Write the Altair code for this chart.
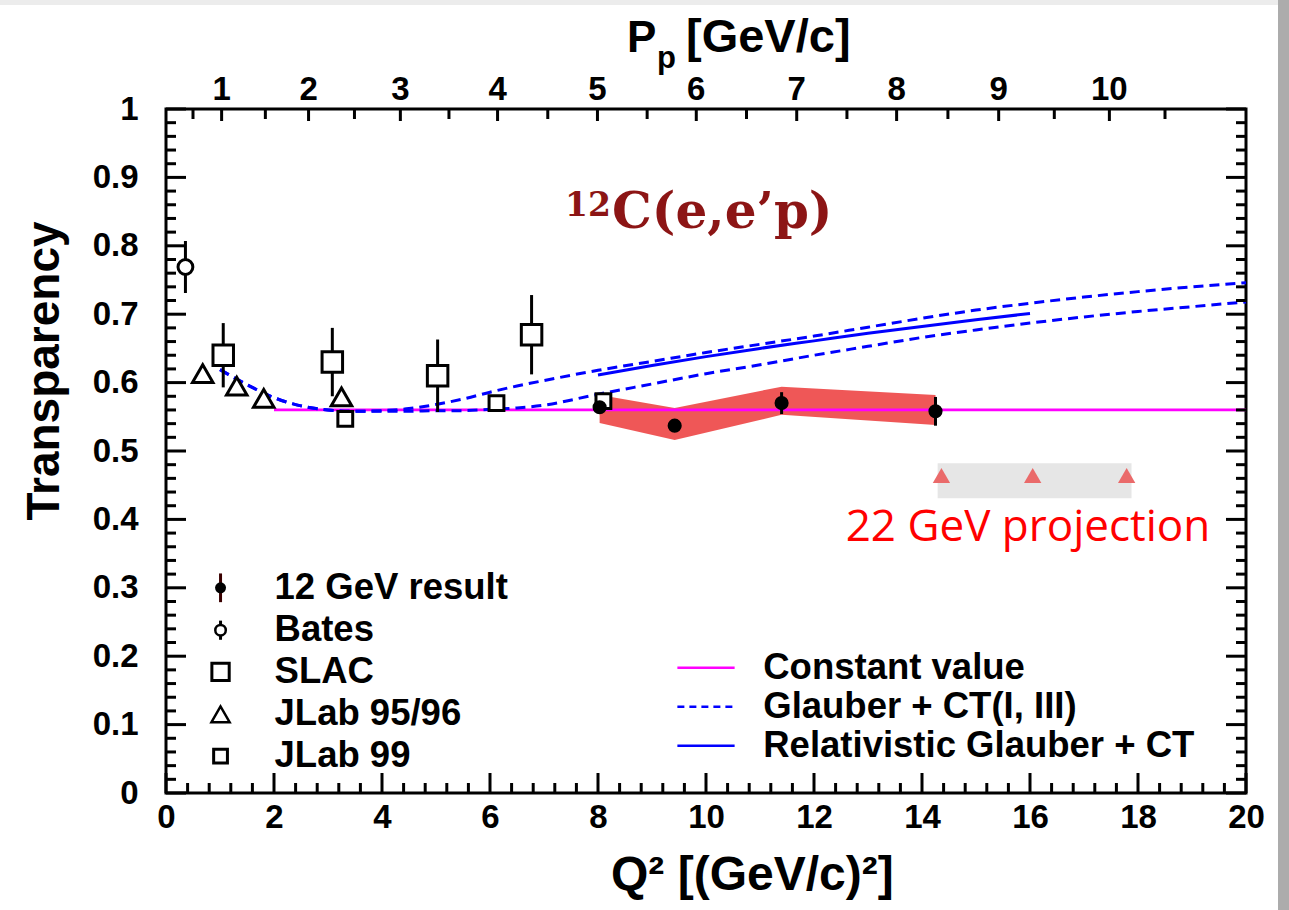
import altair as alt
import pandas as pd

# ---------------- data ----------------
# 12 GeV (Hall C) carbon transparency, statistical errors and systematic band
q2_12gev = [8.03, 9.42, 11.40, 14.25]
t_12gev = [0.564, 0.537, 0.570, 0.558]
err_12gev = [0.006, 0.006, 0.016, 0.021]
sys_lo_12gev = [0.541, 0.516, 0.553, 0.538]
sys_hi_12gev = [0.582, 0.563, 0.594, 0.582]

q2_bates = [0.36]
t_bates = [0.769]
err_bates = [0.038]

q2_slac = [1.06, 3.08, 5.03, 6.77]
t_slac = [0.640, 0.630, 0.610, 0.670]
err_slac = [0.047, 0.050, 0.053, 0.058]

q2_jlab95 = [0.68, 1.31, 1.81, 3.25]
t_jlab95 = [0.613, 0.595, 0.577, 0.579]
err_jlab95 = [0.012, 0.010, 0.010, 0.012]

q2_jlab99 = [3.32, 6.12, 8.10]
t_jlab99 = [0.547, 0.570, 0.573]
err_jlab99 = [0.008, 0.008, 0.008]

# model curves
const_value = 0.56
const_q2 = [2.0, 20.0]

glauber_q2 = [1.0, 1.5, 2.0, 2.5, 3.0, 3.5, 4.0, 4.5, 5.0, 5.5, 6.0, 6.5, 7.0, 8.0, 9.0,
              10.0, 11.0, 12.0, 13.0, 14.0, 15.0, 16.0, 17.0, 18.0, 19.0, 20.0]
glauber_ct1 = [0.619, 0.597, 0.578, 0.566, 0.560, 0.558, 0.559, 0.562, 0.568, 0.576, 0.586,
               0.595, 0.603, 0.618, 0.631, 0.644, 0.656, 0.668, 0.681, 0.694, 0.706,
               0.716, 0.725, 0.733, 0.740, 0.746]
glauber_ct3 = [0.619, 0.597, 0.578, 0.566, 0.560, 0.558, 0.558, 0.558, 0.559, 0.559, 0.561,
               0.563, 0.567, 0.583, 0.598, 0.613, 0.626, 0.640, 0.653, 0.666, 0.677,
               0.687, 0.696, 0.704, 0.711, 0.718]

rel_q2 = [8.0, 9.0, 10.0, 11.0, 12.0, 13.0, 14.0, 15.0, 16.0]
rel_t = [0.611, 0.625, 0.638, 0.650, 0.661, 0.672, 0.682, 0.692, 0.701]

# 22 GeV projection
proj_q2 = [14.36, 16.05, 17.79]
proj_t = [0.464, 0.464, 0.464]
proj_box_q2 = [14.29, 17.88]
proj_box_t = [0.431, 0.482]

# axis ticks
x_major = [0, 2, 4, 6, 8, 10, 12, 14, 16, 18, 20]
x_minor = [round(0.4 * i, 2) for i in range(51) if i % 5]
y_major = [round(0.1 * i, 2) for i in range(11)]
y_minor = [round(0.02 * i, 2) for i in range(51) if i % 5]
p_labels = ["1", "2", "3", "4", "5", "6", "7", "8", "9", "10"]
p_q2 = [1.03, 2.64, 4.34, 6.14, 7.99, 9.82, 11.68, 13.53, 15.42, 17.47]
p_minor_q2 = [0.50, 1.84, 3.49, 5.24, 7.07, 8.91, 10.75, 12.61, 14.48, 16.45, 18.5]

# legend entries (placed in data units)
leg_left_names = ["12 GeV result", "Bates", "SLAC", "JLab 95/96", "JLab 99"]
leg_left_t = [0.300, 0.238, 0.177, 0.115, 0.054]
leg_left_marker_q2 = 1.01
leg_left_text_q2 = 2.01
leg_right_names = ["Constant value", "Glauber + CT(I, III)", "Relativistic Glauber + CT"]
leg_right_t = [0.183, 0.126, 0.069]
leg_right_line_q2 = [9.47, 10.53]
leg_right_text_q2 = 11.06

# ---------------- chart ----------------
W, H = 1080, 684
OX, OY = 166, 109          # plot origin on the page
FONT = "Liberation Sans"
TICK_FS = 33
LEG_FS = 36.5
XS = alt.Scale(domain=[0, 20], nice=False, zero=False)
YS = alt.Scale(domain=[0, 1], nice=False, zero=False)

X_AXIS = alt.Axis(values=x_major, format="d", ticks=False, tickSize=0, domain=False, grid=False,
                  labelFont=FONT, labelFontWeight="bold", labelFontSize=TICK_FS, labelColor="black",
                  labelPadding=8, labelFlush=False, labelOverlap=False, title=None)
Y_AXIS = alt.Axis(values=y_major, format=".1~f", ticks=False, tickSize=0, domain=False, grid=False,
                  labelFont=FONT, labelFontWeight="bold", labelFontSize=TICK_FS, labelColor="black",
                  labelPadding=28, labelFlush=False, labelOverlap=False, title=None)


def xenc(field):
    return alt.X(f"{field}:Q", scale=XS, axis=X_AXIS)


def yenc(field):
    return alt.Y(f"{field}:Q", scale=YS, axis=Y_AXIS)


def df(**cols):
    return pd.DataFrame(cols)


layers = []

# projection box
layers.append(
    alt.Chart(df(x=[proj_box_q2[0]], x2=[proj_box_q2[1]], y=[proj_box_t[0]], y2=[proj_box_t[1]]))
    .mark_rect(color="#e6e6e6")
    .encode(x=xenc("x"), x2="x2:Q", y=yenc("y"), y2="y2:Q")
)
layers.append(
    alt.Chart(df(q2=proj_q2, t=proj_t))
    .mark_point(shape="triangle-up", filled=True, color="#ea6a6a", size=300, opacity=1)
    .encode(x=xenc("q2"), y=yenc("t"))
)

# systematic band of the 12 GeV result
layers.append(
    alt.Chart(df(q2=q2_12gev, lo=sys_lo_12gev, hi=sys_hi_12gev))
    .mark_area(color="#e60000", opacity=0.66)
    .encode(x=xenc("q2"), y=yenc("lo"), y2="hi:Q")
)

# constant value fit
layers.append(
    alt.Chart(df(q2=const_q2, t=[const_value, const_value]))
    .mark_line(color="#ff00ff", strokeWidth=2.8)
    .encode(x=xenc("q2"), y=yenc("t"))
)

# Glauber + CT curves
gl = pd.concat([
    df(q2=glauber_q2, t=glauber_ct1, model=["CT I"] * len(glauber_q2)),
    df(q2=glauber_q2, t=glauber_ct3, model=["CT III"] * len(glauber_q2)),
])
layers.append(
    alt.Chart(gl)
    .mark_line(color="#0000ff", strokeWidth=3, strokeDash=[10, 6], interpolate="monotone")
    .encode(x=xenc("q2"), y=yenc("t"), detail="model:N")
)
layers.append(
    alt.Chart(df(q2=rel_q2, t=rel_t))
    .mark_line(color="#0000ff", strokeWidth=3, interpolate="monotone")
    .encode(x=xenc("q2"), y=yenc("t"))
)


def errbars(q2, t, err, color="black"):
    d = df(q2=q2, lo=[a - b for a, b in zip(t, err)], hi=[a + b for a, b in zip(t, err)])
    return (alt.Chart(d).mark_rule(color=color, strokeWidth=3)
            .encode(x=xenc("q2"), y=yenc("lo"), y2="hi:Q"))


def markers(q2, t, shape, size, filled=False, stroke=3):
    d = df(q2=q2, t=t)
    if filled:
        m = alt.Chart(d).mark_point(shape=shape, size=size, filled=True, color="black", opacity=1)
    else:
        m = alt.Chart(d).mark_point(shape=shape, size=size, filled=False, stroke="black",
                                    fill="white", fillOpacity=1, strokeWidth=stroke, opacity=1)
    return m.encode(x=xenc("q2"), y=yenc("t"))


for q, t, e in [(q2_bates, t_bates, err_bates), (q2_slac, t_slac, err_slac),
                (q2_jlab95, t_jlab95, err_jlab95), (q2_jlab99, t_jlab99, err_jlab99),
                (q2_12gev, t_12gev, err_12gev)]:
    layers.append(errbars(q, t, e))

layers.append(markers(q2_bates, t_bates, "circle", 220))
layers.append(markers(q2_slac, t_slac, "square", 420))
layers.append(markers(q2_jlab95, t_jlab95, "triangle-up", 420))
layers.append(markers(q2_jlab99, t_jlab99, "square", 220))
layers.append(markers(q2_12gev, t_12gev, "circle", 200, filled=True))

# ---- legend (left box: data sets) ----
lm = leg_left_marker_q2
layers.append(errbars([lm], [leg_left_t[0]], [0.021], color="#3a0000"))
layers.append(errbars([lm], [leg_left_t[1]], [0.014]))
layers.append(markers([lm], [leg_left_t[0]], "circle", 120, filled=True))
layers.append(markers([lm], [leg_left_t[1]], "circle", 110, stroke=2.5))
layers.append(markers([lm], [leg_left_t[2]], "square", 300))
layers.append(markers([lm], [leg_left_t[3]], "triangle-up", 330, stroke=2.5))
layers.append(markers([lm], [leg_left_t[4]], "square", 190))
layers.append(
    alt.Chart(df(q2=[leg_left_text_q2] * 5, t=leg_left_t, name=leg_left_names))
    .mark_text(font=FONT, fontWeight="bold", fontSize=LEG_FS, align="left", baseline="middle", color="black")
    .encode(x=xenc("q2"), y=yenc("t"), text="name:N")
)


# ---- legend (right box: models) ----
def leg_line(t, color, dash=None):
    kw = dict(color=color, strokeWidth=2.5)
    if dash:
        kw["strokeDash"] = dash
    return (alt.Chart(df(q2=leg_right_line_q2, t=[t, t])).mark_line(**kw)
            .encode(x=xenc("q2"), y=yenc("t")))


layers.append(leg_line(leg_right_t[0], "#ff00ff"))
layers.append(leg_line(leg_right_t[1], "#0000ff", [7, 5]))
layers.append(leg_line(leg_right_t[2], "#0000ff"))
layers.append(
    alt.Chart(df(q2=[leg_right_text_q2] * 3, t=leg_right_t, name=leg_right_names))
    .mark_text(font=FONT, fontWeight="bold", fontSize=LEG_FS, align="left", baseline="middle", color="black")
    .encode(x=xenc("q2"), y=yenc("t"), text="name:N")
)


# ---- frame ticks (pointing inward, ROOT style) ----
def hticks(vals, x0, x1):
    return (alt.Chart(df(t=vals)).mark_rule(color="black", strokeWidth=3)
            .encode(y=yenc("t"), x=alt.value(x0), x2=alt.value(x1)))


def vticks(vals, y0, y1):
    return (alt.Chart(df(q2=vals)).mark_rule(color="black", strokeWidth=3)
            .encode(x=xenc("q2"), y=alt.value(y0), y2=alt.value(y1)))


layers += [
    hticks(y_major, 0, 20), hticks(y_minor, 0, 10),
    hticks(y_major, W - 20, W), hticks(y_minor, W - 10, W),
    vticks(x_major, H - 20, H), vticks(x_minor, H - 10, H),
    vticks(p_q2, 0, 12), vticks(p_minor_q2, 0, 10),
]

# top (proton momentum) axis labels
layers.append(
    alt.Chart(df(q2=p_q2, lab=p_labels))
    .mark_text(font=FONT, fontWeight="bold", fontSize=TICK_FS, align="center", baseline="alphabetic",
               color="black")
    .encode(x=xenc("q2"), y=alt.value(100 - OY), text="lab:N")
)


def label(s, px, py, size, color="black", font=FONT, weight="bold", align="left",
          baseline="alphabetic", angle=0):
    kw = dict(font=font, fontWeight=weight, fontSize=size, color=color, align=align, baseline=baseline)
    if angle:
        kw["angle"] = angle
    return (alt.Chart(df(s=[s])).mark_text(**kw)
            .encode(x=alt.value(px - OX), y=alt.value(py - OY), text="s:N"))


layers += [
    # axis titles
    label("Transparency", 45, 371, 46, align="center", baseline="middle", angle=270),
    label("Q² [(GeV/c)²]", 611, 890, 48),
    label("P", 627, 52, 44),
    label("p", 657, 68, 31),
    label("[GeV/c]", 686, 52, 47),
    # reaction label
    label("12", 565, 216, 33, color="#8c1515", font="DejaVu Serif"),
    label("C(e,e’p)", 612, 228, 50, color="#8c1515", font="DejaVu Serif"),
    # projection note
    label("22 GeV projection", 1028, 541, 44, color="#ff0000", font="Open Sans", weight="normal",
          align="center"),
]

# page edge shading
layers.append(
    alt.Chart(df(a=[0])).mark_rect(color="#ececec")
    .encode(x=alt.value(-OX), x2=alt.value(1278 - OX), y=alt.value(-OY), y2=alt.value(5 - OY))
)
layers.append(
    alt.Chart(df(a=[0])).mark_rect(color="#acacac")
    .encode(x=alt.value(1278 - OX), x2=alt.value(1289 - OX), y=alt.value(-OY), y2=alt.value(910 - OY))
)

chart = (
    alt.layer(*layers)
    .properties(width=W, height=H, background="white",
                padding={"left": OX, "top": OY, "right": 1289 - OX - W, "bottom": 910 - OY - H},
                autosize=alt.AutoSizeParams(type="none"))
    .configure_view(stroke="black", strokeWidth=3)
)

chart.save("out.html", embed_options={"renderer": "svg", "actions": False})
